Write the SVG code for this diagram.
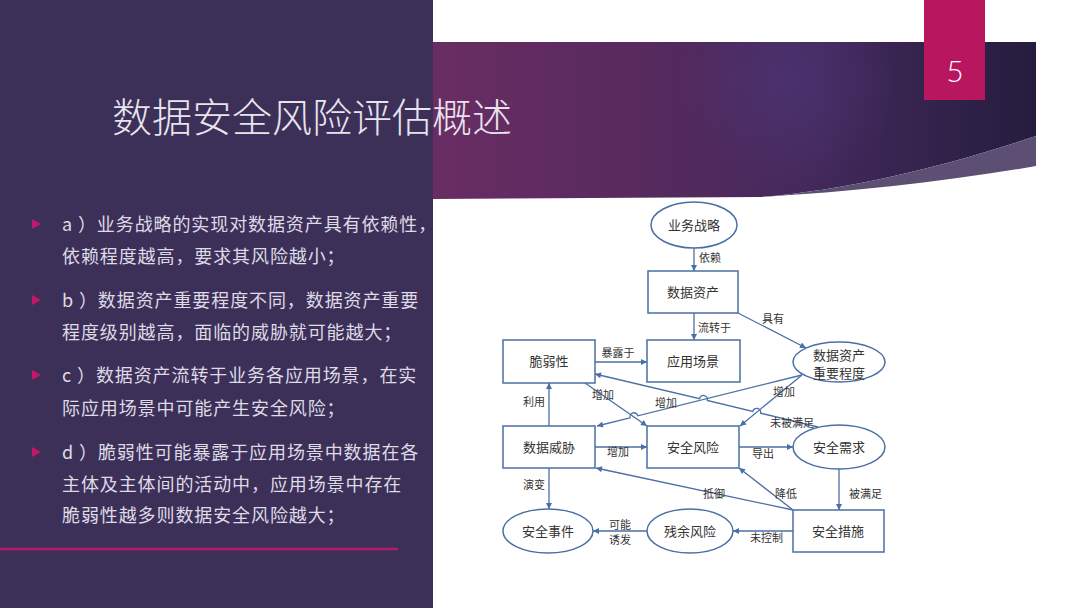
<svg xmlns="http://www.w3.org/2000/svg" width="1080" height="608" viewBox="0 0 1080 608">
<defs>
<linearGradient id="band" x1="433" y1="0" x2="1036" y2="0" gradientUnits="userSpaceOnUse">
<stop offset="0" stop-color="#692d63"/>
<stop offset="0.35" stop-color="#572a5e"/>
<stop offset="0.62" stop-color="#44295c"/>
<stop offset="1" stop-color="#251d3e"/>
</linearGradient>
<radialGradient id="glow" cx="790" cy="80" r="110" gradientUnits="userSpaceOnUse">
<stop offset="0" stop-color="#4d3575" stop-opacity="0.7"/>
<stop offset="1" stop-color="#4d3575" stop-opacity="0"/>
</radialGradient>
<marker id="ah" viewBox="0 0 10 10" refX="10" refY="5" markerWidth="7" markerHeight="6" orient="auto" markerUnits="userSpaceOnUse">
<path d="M0,0 L10,5 L0,10 z" fill="#4a6fa5"/>
</marker>
<style>
.panel{fill:#3c3058}
.title{font-family:"Noto Sans CJK SC","Noto Sans",sans-serif;font-size:40px;font-weight:300;fill:#e8e4ee}
.body{font-family:"Noto Sans CJK SC","Noto Sans",sans-serif;font-size:18px;letter-spacing:0.9px;fill:#dedae6}
.bullet{fill:#c2186b}
.node{fill:#ffffff;stroke:#4a6fa5;stroke-width:1.5}
.ntext{font-family:"Noto Sans CJK SC","Noto Sans",sans-serif;font-size:13px;fill:#333333;text-anchor:middle}
.conn{fill:none;stroke:#4a6fa5;stroke-width:1.3;marker-end:url(#ah)}
.lbl{font-family:"Noto Sans CJK SC","Noto Sans",sans-serif;font-size:11px;fill:#333333}
</style>
</defs>

<rect x="0" y="0" width="1080" height="608" fill="#ffffff"/>
<rect class="panel" x="0" y="0" width="433" height="608"/>

<!-- top band -->
<path d="M433,42 H1036 V136 C950,165 850,190 760,197 L433,199 Z" fill="url(#band)"/>
<path d="M433,42 H1036 V136 C950,165 850,190 760,197 L433,199 Z" fill="url(#glow)"/>
<path d="M760,197 C850,190 950,165 1036,136 V166 C950,181 850,192 760,197 Z" fill="#5d4f74"/>

<!-- page number box -->
<rect x="924" y="0" width="61" height="100" fill="#b8175f"/>
<text x="955" y="82" font-family="Lato,'Open Sans',sans-serif" font-weight="300" font-size="30" fill="#ffffff" text-anchor="middle">5</text>

<!-- title -->
<text class="title" x="112" y="132">数据安全风险评估概述</text>

<!-- bullets -->
<polygon class="bullet" points="32,219 41,224 32,229"/>
<polygon class="bullet" points="32,295 41,300 32,305"/>
<polygon class="bullet" points="32,370 41,375 32,380"/>
<polygon class="bullet" points="32,447 41,452 32,457"/>
<text class="body" x="62" y="231">a ）业务战略的实现对数据资产具有依赖性，</text>
<text class="body" x="62" y="263">依赖程度越高，要求其风险越小；</text>
<text class="body" x="62" y="307">b ）数据资产重要程度不同，数据资产重要</text>
<text class="body" x="62" y="339">程度级别越高，面临的威胁就可能越大；</text>
<text class="body" x="62" y="382">c ）数据资产流转于业务各应用场景，在实</text>
<text class="body" x="62" y="415">际应用场景中可能产生安全风险；</text>
<text class="body" x="62" y="459">d ）脆弱性可能暴露于应用场景中数据在各</text>
<text class="body" x="62" y="491">主体及主体间的活动中，应用场景中存在</text>
<text class="body" x="62" y="522">脆弱性越多则数据安全风险越大；</text>
<line x1="0" y1="549" x2="398" y2="549" stroke="#b51c67" stroke-width="2.5"/>

<!-- connectors -->
<g id="connectors">
<path class="conn" d="M694,248 L694,271"/><text class="lbl" x="699" y="262">依赖</text>
<path class="conn" d="M694,313 L694,340"/><text class="lbl" x="698" y="332">流转于</text>
<path class="conn" d="M738,313 L806,348"/><text class="lbl" x="762" y="323">具有</text>
<path class="conn" d="M595,362 L647,362"/><text class="lbl" x="618" y="357" text-anchor="middle">暴露于</text>
<path class="conn" d="M818,427 L760.6,413.2 A4,4 0 0 0 752.8,411.4 L707.3,400.4 A4,4 0 0 0 699.5,398.6 L595,374"/><text class="lbl" x="770" y="427">未被满足</text>
<path class="conn" d="M585,383 L647,426"/><text class="lbl" x="592" y="399">增加</text>
<path class="conn" d="M802,375 L637.9,415.8 A4,4 0 0 0 630.1,417.8 L597,426"/><text class="lbl" x="655" y="407">增加</text>
<path class="conn" d="M802,375 L740,426"/><text class="lbl" x="773" y="396">增加</text>
<path class="conn" d="M549,426 L549,383"/><text class="lbl" x="523" y="406">利用</text>
<path class="conn" d="M595,447 L647,447"/><text class="lbl" x="607" y="456">增加</text>
<path class="conn" d="M739,447 L793,447"/><text class="lbl" x="752" y="458">导出</text>
<path class="conn" d="M549,468 L549,509"/><text class="lbl" x="523" y="489">演变</text>
<path class="conn" d="M839,469 L839,510"/><text class="lbl" x="849" y="498">被满足</text>
<path class="conn" d="M793,510 L739,468"/><text class="lbl" x="775" y="498">降低</text>
<path class="conn" d="M793,510 L596,468"/><text class="lbl" x="703" y="498">抵御</text>
<path class="conn" d="M793,531 L733,531"/><text class="lbl" x="750" y="542">未控制</text>
<path class="conn" d="M647,531 L593,531"/><text class="lbl" x="609" y="529">可能</text><text class="lbl" x="609" y="544">诱发</text>
</g>

<!-- nodes -->
<g id="n-strategy"><ellipse class="node" cx="694" cy="225" rx="43" ry="23"/><text class="ntext" x="694" y="230">业务战略</text></g>
<g id="n-asset"><rect class="node" x="648" y="271" width="90" height="42"/><text class="ntext" x="693" y="297">数据资产</text></g>
<g id="n-scene"><rect class="node" x="647" y="340" width="93" height="42"/><text class="ntext" x="693" y="366">应用场景</text></g>
<g id="n-vuln"><rect class="node" x="503" y="340" width="92" height="43"/><text class="ntext" x="549" y="366">脆弱性</text></g>
<g id="n-importance"><ellipse class="node" cx="839" cy="362" rx="46" ry="20"/><text class="ntext" x="839" y="360">数据资产</text><text class="ntext" x="839" y="378">重要程度</text></g>
<g id="n-threat"><rect class="node" x="503" y="426" width="92" height="42"/><text class="ntext" x="549" y="452">数据威胁</text></g>
<g id="n-risk"><rect class="node" x="647" y="426" width="92" height="42"/><text class="ntext" x="693" y="452">安全风险</text></g>
<g id="n-demand"><ellipse class="node" cx="839" cy="447" rx="46" ry="22"/><text class="ntext" x="839" y="452">安全需求</text></g>
<g id="n-event"><ellipse class="node" cx="548" cy="531" rx="45" ry="22"/><text class="ntext" x="548" y="536">安全事件</text></g>
<g id="n-residual"><ellipse class="node" cx="690" cy="531" rx="43" ry="22"/><text class="ntext" x="690" y="536">残余风险</text></g>
<g id="n-measure"><rect class="node" x="793" y="510" width="91" height="42"/><text class="ntext" x="838" y="536">安全措施</text></g>
</svg>
